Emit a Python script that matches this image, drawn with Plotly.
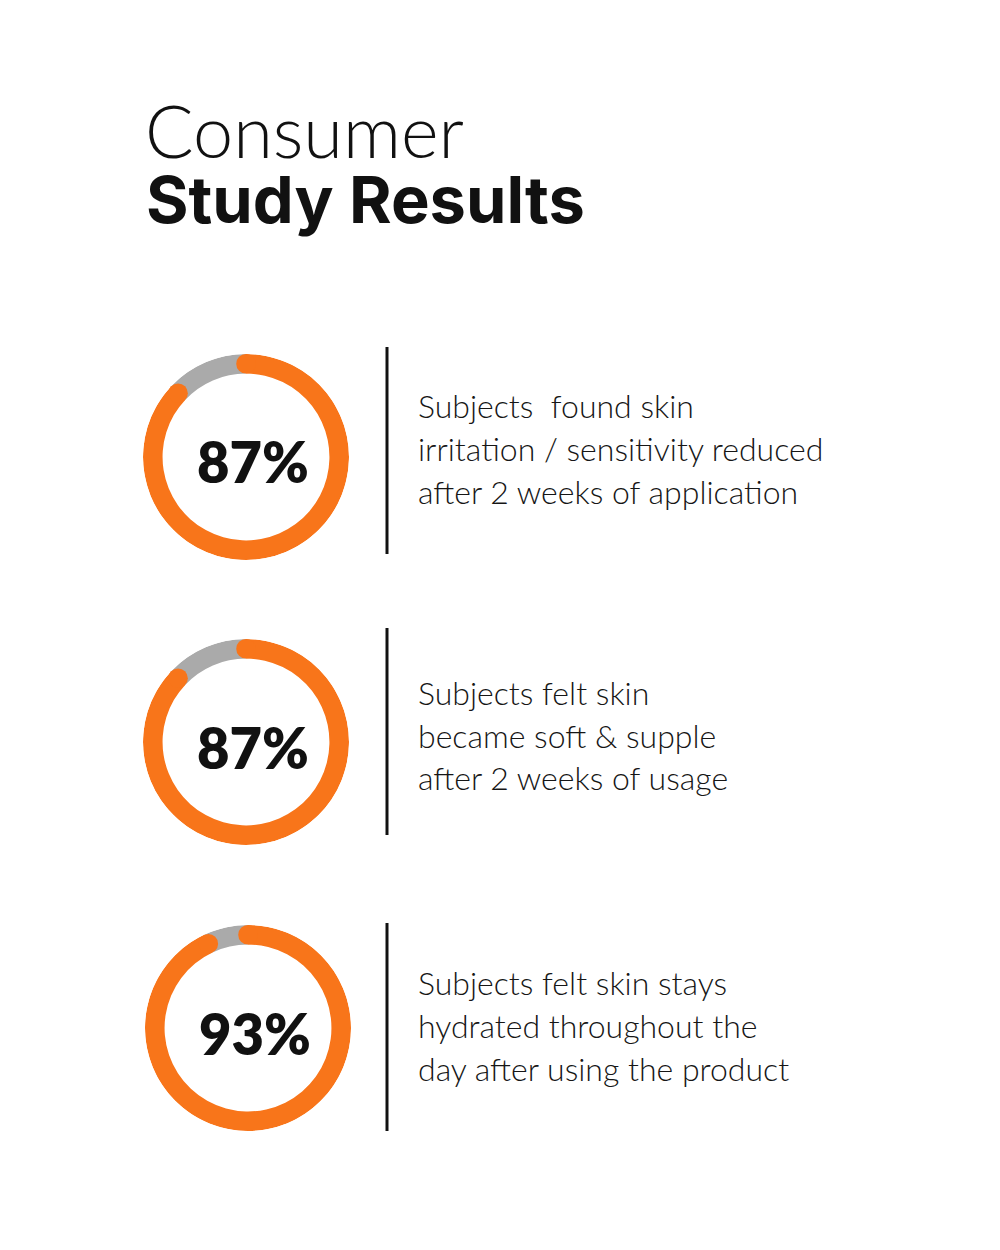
import plotly.graph_objects as go

# ---- data ----
percentages = [87, 87, 93]
pct_labels = ["87%", "87%", "93%"]
descriptions = [
    ["Subjects\u00a0 found skin", "irritation / sensitivity reduced", "after 2 weeks of application"],
    ["Subjects felt skin", "became soft & supple", "after 2 weeks of usage"],
    ["Subjects felt skin stays", "hydrated throughout the", "day after using the product"],
]
title_light = "Consumer"
title_bold = "Study Results"

ORANGE = "#F8751A"
GRAY = "#AAAAAA"
TEXT = "#161616"

W, H = 1000, 1250
centers = [(246, 457), (246, 742), (248, 1028)]
R_OUT = 103
HOLE = 0.81
line_y = [(347, 554), (628, 835), (923, 1131)]
text_rows = [(405, 449, 492), (692, 735, 778), (982, 1025, 1068)]

fig = go.Figure()
annotations = []
shapes = []

for i, (pct, lab) in enumerate(zip(percentages, pct_labels)):
    cx, cy = centers[i]
    pid = "polar" if i == 0 else f"polar{i+1}"
    sub = pid
    dom_x = [(cx - R_OUT) / W, (cx + R_OUT) / W]
    dom_y = [1 - (cy + R_OUT) / H, 1 - (cy - R_OUT) / H]
    rest = 100 - pct
    a_main = pct / 100 * 360
    a_rest = rest / 100 * 360
    fig.add_trace(go.Barpolar(
        r=[1 - HOLE], base=[HOLE], theta=[a_main + a_rest / 2], width=[a_rest],
        marker=dict(color=GRAY, line=dict(width=0)), subplot=sub,
        hoverinfo="skip", showlegend=False))
    fig.add_trace(go.Barpolar(
        r=[1 - HOLE], base=[HOLE], theta=[a_main / 2], width=[a_main],
        marker=dict(color=ORANGE, line=dict(width=0)), subplot=sub,
        hoverinfo="skip", showlegend=False))
    fig.add_trace(go.Scatterpolar(
        r=[(1 + HOLE) / 2] * 2, theta=[0, a_main], mode="markers",
        marker=dict(color=ORANGE, size=(1 - HOLE) * R_OUT, line=dict(width=0)),
        subplot=sub, hoverinfo="skip", showlegend=False))
    fig.update_layout(**{pid: dict(
        domain=dict(x=dom_x, y=dom_y),
        bgcolor="rgba(0,0,0,0)",
        radialaxis=dict(visible=False, range=[0, 1]),
        angularaxis=dict(visible=False, rotation=90, direction="clockwise"),
    )})
    annotations.append(dict(
        x=(cx + 7) / W, y=1 - (cy + 5) / H, xref="paper", yref="paper",
        text=lab, showarrow=False, xanchor="center", yanchor="middle",
        font=dict(family="Lato", size=56, color="#111111", weight=800)))
    y0, y1 = line_y[i]
    shapes.append(dict(type="line", xref="paper", yref="paper",
                       x0=387 / W, x1=387 / W, y0=1 - y0 / H, y1=1 - y1 / H,
                       line=dict(color="#111111", width=3)))
    for line, ty in zip(descriptions[i], text_rows[i]):
        annotations.append(dict(
            x=416 / W, y=1 - ty / H, xref="paper", yref="paper",
            text=line, showarrow=False, xanchor="left", yanchor="middle",
            font=dict(family="Lato", size=32, color=TEXT, weight=300)))

annotations.append(dict(
    x=143 / W, y=1 - 130 / H, xref="paper", yref="paper", text=title_light,
    showarrow=False, xanchor="left", yanchor="middle",
    font=dict(family="Lato", size=72, color="#111111", weight=300)))
annotations.append(dict(
    x=144 / W, y=1 - 199 / H, xref="paper", yref="paper", text=title_bold,
    showarrow=False, xanchor="left", yanchor="middle",
    font=dict(family="Inter", size=65, color="#111111", weight=700)))

fig.update_layout(
    width=W, height=H, margin=dict(l=0, r=0, t=0, b=0),
    paper_bgcolor="white", plot_bgcolor="white",
    annotations=annotations, shapes=shapes, showlegend=False,
)
fig.write_html("out.html")
